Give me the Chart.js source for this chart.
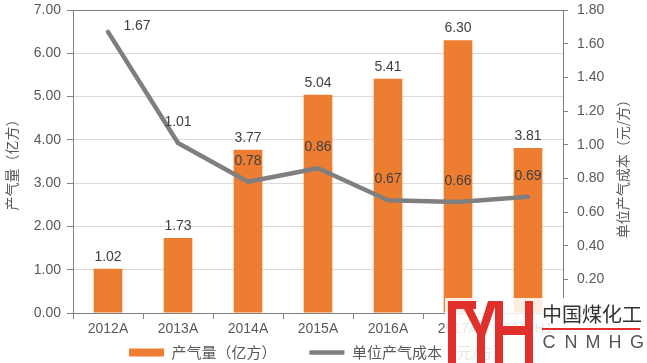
<!DOCTYPE html>
<html>
<head>
<meta charset="utf-8">
<script src="https://cdn.jsdelivr.net/npm/chart.js@4/dist/chart.umd.min.js"></script>
<style>
  body { margin: 0; background: #fff; }
  #wrap { width: 647px; height: 363px; position: relative; }
</style>
</head>
<body>
<div id="wrap"><canvas id="myChart"></canvas></div>
<script>
const years = ['2012A', '2013A', '2014A', '2015A', '2016A', '2017A', '2018H1'];
const output = [1.02, 1.73, 3.77, 5.04, 5.41, 6.30, 3.81];   // 产气量（亿方）
const cost = [1.67, 1.01, 0.78, 0.86, 0.67, 0.66, 0.69];     // 单位产气成本（元/方）

const FONT = "'Liberation Sans', 'Noto Sans CJK SC', sans-serif";
const CJK = "'Noto Sans CJK SC', 'Liberation Sans', sans-serif";

// value labels, axis titles and the watermark in the corner
const extras = {
  id: 'extras',
  afterDatasetsDraw(chart) {
    const c = chart.ctx;
    c.save();
    c.fillStyle = '#404040';
    c.font = '14px ' + FONT;
    c.textAlign = 'center';
    c.textBaseline = 'bottom';
    chart.getDatasetMeta(0).data.forEach((el, i) => {
      c.fillText(output[i].toFixed(2), el.x, el.y - 5);
    });
    c.textBaseline = 'middle';
    chart.getDatasetMeta(1).data.forEach((el, i) => {
      if (i === 0) c.fillText(cost[i].toFixed(2), el.x + 29, el.y - 6);
      else c.fillText(cost[i].toFixed(2), el.x, el.y - 21);
    });
    c.restore();
  },
  afterDraw(chart) {
    const c = chart.ctx;
    const a = chart.chartArea;
    const midY = (a.top + a.bottom) / 2;
    c.save();
    c.fillStyle = '#595959';
    c.font = '14px ' + CJK;
    c.textAlign = 'center';
    c.textBaseline = 'middle';
    c.translate(12, midY);
    c.rotate(-Math.PI / 2);
    c.fillText('产气量（亿方）', 0, 0);
    c.restore();

    c.save();
    c.fillStyle = '#595959';
    c.font = '14px ' + CJK;
    c.textAlign = 'center';
    c.textBaseline = 'middle';
    c.translate(623, midY + 4);
    c.rotate(-Math.PI / 2);
    c.fillText('单位产气成本（元/方）', 0, 0);
    c.restore();

    // watermark
    c.save();
    c.fillStyle = 'rgba(255,255,255,0.85)';
    c.fillRect(445, 298, 202, 65);
    c.fillStyle = '#E0302C';
    c.fillRect(448, 301, 8, 62);
    c.fillRect(448, 301, 28, 8);
    c.beginPath();
    c.moveTo(464, 309); c.lineTo(473, 309); c.lineTo(484, 332); c.lineTo(478, 336);
    c.closePath(); c.fill();
    c.beginPath();
    c.moveTo(488, 301); c.lineTo(497, 301); c.lineTo(485, 336); c.lineTo(478, 333);
    c.closePath(); c.fill();
    c.fillRect(477, 330, 8, 33);
    c.fillRect(495, 301, 8, 62);
    c.fillRect(525, 301, 8, 62);
    c.fillRect(495, 326, 38, 9);
    c.fillRect(542, 328, 98, 2);
    c.fillStyle = '#333333';
    c.font = '20px ' + CJK;
    c.textAlign = 'left';
    c.textBaseline = 'middle';
    c.fillText('中国煤化工', 542, 314);
    c.fillStyle = '#555555';
    c.font = '18px ' + FONT;
    ['C', 'N', 'M', 'H', 'G'].forEach((ch, i) => {
      c.textAlign = 'center';
      c.fillText(ch, 549 + i * 22, 343);
    });
    c.restore();
  }
};

const ctx = document.getElementById('myChart').getContext('2d');

const chart = new Chart(ctx, {
  type: 'bar',
  data: {
    labels: years,
    datasets: [{
      type: 'bar',
      label: '产气量（亿方）',
      data: output,
      backgroundColor: '#ED7D31',
      borderWidth: 0,
      barPercentage: 0.41,
      categoryPercentage: 1,
      yAxisID: 'y',
      order: 1
    },
    {
      type: 'line',
      label: '单位产气成本（元/方）',
      data: cost,
      borderColor: '#7F7F7F',
      backgroundColor: '#7F7F7F',
      borderWidth: 4.5,
      borderCapStyle: 'round',
      borderJoinStyle: 'round',
      pointRadius: 0,
      tension: 0,
      yAxisID: 'y1',
      order: 0
    }]
  },
  options: {
    responsive: true,
    maintainAspectRatio: false,
    animation: false,
    layout: { padding: { top: 10, bottom: -7, left: 0, right: 0 } },
    plugins: {
      tooltip: { enabled: false },
      legend: {
        position: 'bottom',
        labels: {
          usePointStyle: true,
          pointStyleWidth: 35,
          boxHeight: 8,
          padding: 6,
          color: '#595959',
          font: { size: 15, family: CJK },
          generateLabels(chart) {
            const items = Chart.defaults.plugins.legend.labels.generateLabels(chart);
            items.sort((p, q) => p.datasetIndex - q.datasetIndex);
            items.forEach(it => {
              if (it.datasetIndex === 0) {
                it.pointStyle = 'rect';
                it.fillStyle = '#ED7D31';
                it.strokeStyle = '#ED7D31';
                it.lineWidth = 0;
                it.text = it.text + '        ';
              } else {
                it.pointStyle = 'line';
                it.strokeStyle = '#7F7F7F';
                it.lineWidth = 4.5;
                it.text = it.text + '   ';
              }
            });
            return items;
          }
        }
      }
    },
    scales: {
      x: {
        offset: true,
        grid: { offset: true, drawOnChartArea: false, tickLength: 6, color: '#808080' },
        border: { color: '#808080' },
        ticks: { color: '#595959', font: { size: 14, family: FONT }, padding: 2, maxRotation: 0 },
        afterFit(s) { s.height = 26; }
      },
      y: {
        position: 'left',
        min: 0,
        max: 7,
        ticks: {
          stepSize: 1,
          color: '#595959',
          font: { size: 14, family: FONT },
          padding: 6,
          callback: v => v.toFixed(2)
        },
        grid: {
          color: c => (c.tick && c.tick.value === 7 ? '#808080' : '#D9D9D9'),
          tickColor: '#808080',
          tickLength: 6
        },
        border: { color: '#808080' },
        afterFit(s) { s.width = 73; s.paddingTop = 0; s.paddingBottom = 0; }
      },
      y1: {
        position: 'right',
        min: 0,
        max: 1.8,
        ticks: {
          stepSize: 0.2,
          color: '#595959',
          font: { size: 14, family: FONT },
          padding: 9,
          callback: v => v.toFixed(2)
        },
        grid: { drawOnChartArea: false, color: '#808080', tickLength: 5 },
        border: { color: '#808080' },
        afterFit(s) { s.width = 84; s.paddingTop = 0; s.paddingBottom = 0; }
      }
    }
  },
  plugins: [extras]
});
</script>
</body>
</html>
